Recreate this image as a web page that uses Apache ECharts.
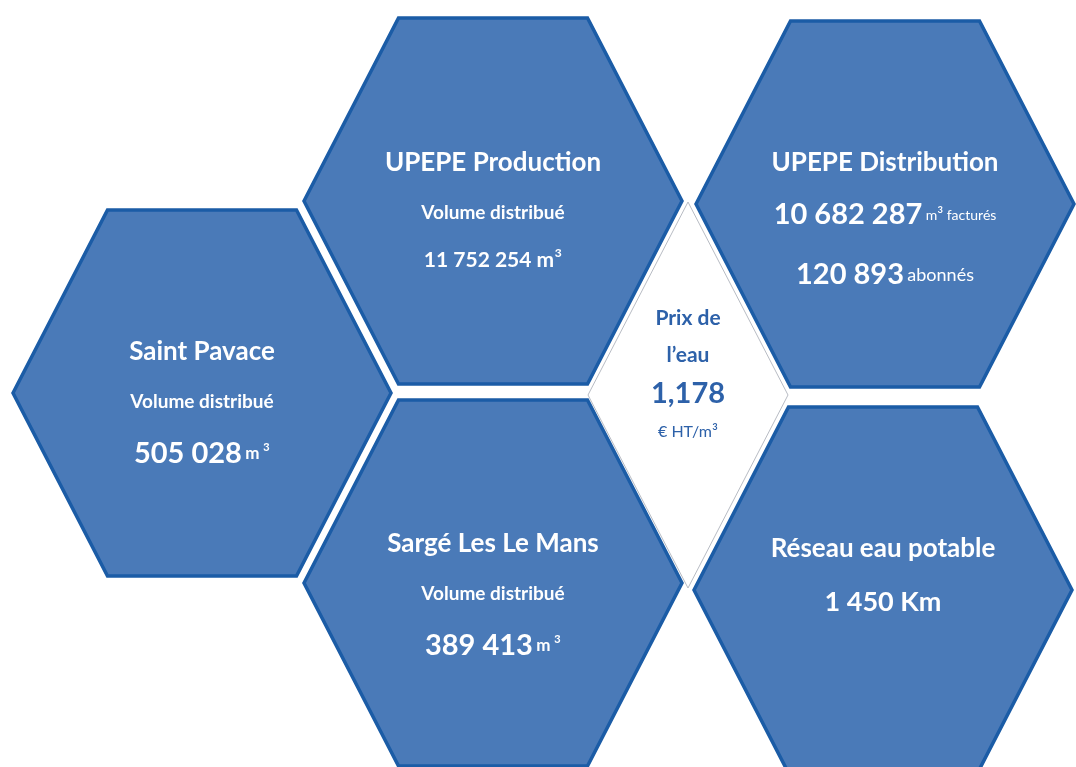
<!DOCTYPE html>
<html>
<head>
<meta charset="utf-8">
<script src="https://cdn.jsdelivr.net/npm/echarts@6/dist/echarts.min.js"></script>
<style>
html, body { margin: 0; padding: 0; background: #fff; }
#chart { width: 1076px; height: 767px; }
</style>
</head>
<body>
<div id="chart"></div>
<script>
// cellules (centre des hexagones, en unités des axes)
var cellNames = ['Saint Pavace', 'UPEPE Production', 'UPEPE Distribution', 'Sargé Les Le Mans', 'Réseau eau potable'];
var cellX = [202, 493, 885, 493, 883];
var cellY = [393, 201, 204, 583, 590];
// chiffres
var volumes = ['505 028', '11 752 254', '10 682 287', '389 413', '1 450'];
var abonnes = '120 893';
var prixEau = '1,178';

var labelShift = [11, 9, 19, 13, -13];

function cellText(i) {
    var name = cellNames[i];
    if (i === 2) {
        return '{t|' + name + '}\n{n|' + volumes[i] + '} {s|m}{ss|³}{s| facturés}\n{n2|' + abonnes + '} {a|abonnés}';
    }
    if (i === 4) {
        return '{t|' + name + '}\n{k|' + volumes[i] + ' Km}';
    }
    if (i === 1) {
        return '{t|' + name + '}\n{v|Volume distribué}\n{p|' + volumes[i] + ' m}{ps|³}';
    }
    return '{t|' + name + '}\n{v|Volume distribué}\n{n|' + volumes[i] + '} {u|m} {us|³}';
}

var F = 'Lato';
var richStyles = {
    t: { fontSize: 26, fontWeight: 'bold', fill: '#fff', lineHeight: 50, fontFamily: F },
    v: { fontSize: 19, fontWeight: 'bold', fill: '#fff', lineHeight: 50, fontFamily: F },
    n: { fontSize: 29, fontWeight: 'bold', fill: '#fff', lineHeight: 54, fontFamily: F },
    n2: { fontSize: 29, fontWeight: 'bold', fill: '#fff', lineHeight: 66, fontFamily: F },
    u: { fontSize: 17, fontWeight: 'bold', fill: '#fff', lineHeight: 54, fontFamily: F },
    us: { fontSize: 22, fill: '#fff', lineHeight: 54, fontFamily: F },
    p: { fontSize: 21, fontWeight: 'bold', fill: '#fff', lineHeight: 44, fontFamily: F },
    ps: { fontSize: 24, fill: '#fff', lineHeight: 44, fontFamily: F },
    s: { fontSize: 14, fill: '#fff', lineHeight: 54, fontFamily: F },
    ss: { fontSize: 18, fill: '#fff', lineHeight: 54, fontFamily: F },
    a: { fontSize: 18, fill: '#fff', lineHeight: 66, fontFamily: F },
    k: { fontSize: 27, fontWeight: 'bold', fill: '#fff', lineHeight: 56, fontFamily: F }
};

var chart = echarts.init(document.getElementById('chart'));

function hexPoints(cx, cy, rx, ry) {
    return [
        [cx - rx, cy], [cx - rx / 2, cy - ry], [cx + rx / 2, cy - ry],
        [cx + rx, cy], [cx + rx / 2, cy + ry], [cx - rx / 2, cy + ry]
    ];
}

var option = {
    animation: false,
    backgroundColor: '#fff',
    grid: { left: 0, right: 0, top: 0, bottom: 0 },
    xAxis: { type: 'value', min: 0, max: 1076, show: false },
    yAxis: { type: 'value', min: 0, max: 767, inverse: true, show: false },
    series: [
        {
            // losange central : prix de l'eau
            type: 'custom',
            data: [[688, 395]],
            renderItem: function (params, api) {
                var c = api.coord([api.value(0), api.value(1)]);
                return {
                    type: 'group',
                    children: [
                        {
                            type: 'polygon',
                            shape: { points: [[c[0], c[1] - 193], [c[0] + 100, c[1]], [c[0], c[1] + 193], [c[0] - 100, c[1]]] },
                            style: { fill: '#fff', stroke: '#b8bcc4', lineWidth: 1 }
                        },
                        {
                            type: 'text',
                            x: c[0], y: c[1] - 20,
                            style: {
                                text: '{a|Prix de}\n{a|l’eau}\n{b|' + prixEau + '}\n{c|€ HT/m}{cs|³}',
                                align: 'center', verticalAlign: 'middle',
                                rich: {
                                    a: { fontSize: 21, fontWeight: 'bold', fill: '#2d61a9', lineHeight: 37, fontFamily: F },
                                    b: { fontSize: 29, fontWeight: 'bold', fill: '#2d61a9', lineHeight: 40, fontFamily: F },
                                    c: { fontSize: 16, fill: '#2d61a9', lineHeight: 36, fontFamily: F },
                                    cs: { fontSize: 18, fill: '#2d61a9', lineHeight: 36, fontFamily: F }
                                }
                            }
                        }
                    ]
                };
            }
        },
        {
            type: 'custom',
            data: cellX.map(function (x, i) { return [x, cellY[i], i]; }),
            renderItem: function (params, api) {
                var i = api.value(2);
                var c = api.coord([api.value(0), api.value(1)]);
                return {
                    type: 'group',
                    children: [
                        {
                            type: 'polygon',
                            shape: { points: hexPoints(c[0], c[1], 189, 183) },
                            style: { fill: '#4a7ab8', stroke: '#1b5ca6', lineWidth: 3.5 }
                        },
                        {
                            type: 'text',
                            x: c[0], y: c[1] + labelShift[i],
                            style: {
                                text: cellText(i),
                                align: 'center', verticalAlign: 'middle',
                                rich: richStyles
                            }
                        }
                    ]
                };
            }
        }
    ]
};

chart.setOption(option);
</script>
</body>
</html>
